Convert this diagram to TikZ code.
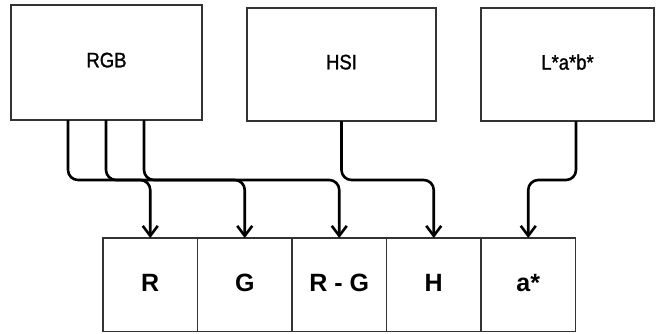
\documentclass[tikz,border=0pt]{standalone}
\usepackage{fontspec}
\setmainfont{Liberation Sans}
\newfontfamily\narrowfont[FakeStretch=0.88,FakeBold=1.2]{Liberation Sans}
\usetikzlibrary{positioning}
\usetikzlibrary{arrows.meta}

\begin{document}
\begin{tikzpicture}[x=1pt,y=-1pt,
  space/.style={draw=black!80, line width=1.2pt, inner sep=0pt, outer sep=0pt, minimum height=113pt, text depth=5pt, font=\narrowfont\fontsize{21}{24}\selectfont},
  chan/.style={draw=black!80, line width=1.2pt, inner sep=0pt, outer sep=0pt, minimum width=94.5pt, minimum height=93.5pt, text depth=4pt, font=\fontsize{25}{28}\selectfont\bfseries},
  link/.style={line width=2.6pt, rounded corners=10pt, -{Straight Barb[length=10pt,width=15pt]}}]
\useasboundingbox (0,0) rectangle (660,333);

% colour spaces
\node[space, minimum width=191pt, minimum height=115pt] (rgb) at (106.5,62.5) {RGB};
\node[space, minimum width=189pt] (hsi) at (341.5,64.5) {HSI};
\node[space, minimum width=173pt] (lab) at (567.5,64.5) {L*a*b*};

% channels
\node[chan] (r) at (150.25,284.75) {R};
\node[chan, right=0pt of r] (g) {G};
\node[chan, right=0pt of g] (rg) {R - G};
\node[chan, right=0pt of rg] (h) {H};
\node[chan, right=0pt of h] (a) {a*};

% links
\draw[link] (rgb.south west)++(57,0) -- ++(0,60) -| (r.north);
\draw[link] (rgb.south west)++(95,0) -- ++(0,60) -| (g.north);
\draw[link] (rgb.south west)++(133,0) -- ++(0,60) -| (rg.north);
\draw[link] (hsi.south) -- ++(0,59) -| (h.north);
\draw[link] (lab.south west)++(95,0) -- ++(0,59) -| (a.north);

\end{tikzpicture}
\end{document}
